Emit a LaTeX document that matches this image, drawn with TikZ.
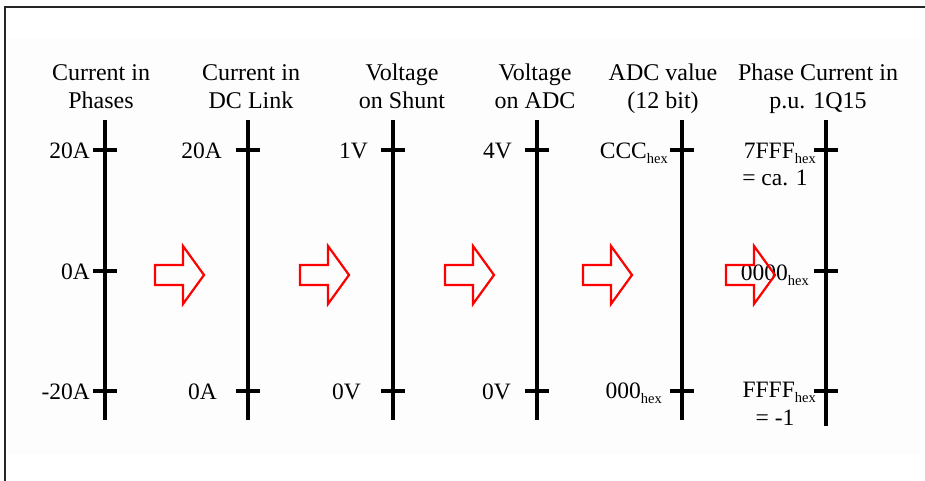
\documentclass[tikz,border=0pt]{standalone}
\usepackage{fontspec}
\setmainfont{Liberation Serif}
\newcommand\hx{\raisebox{-5pt}{\fontsize{14.5}{14.5}\selectfont hex}}
\begin{document}
\begin{tikzpicture}[x=1pt,y=-1pt,
  axis/.style={line width=3.2pt},
  tickmark/.style={line width=3.2pt},
  title/.style={align=center,font=\fontsize{24}{28}\selectfont,inner sep=0pt,anchor=base},
  lab/.style={font=\fontsize{23.5}{28}\selectfont,inner sep=0pt,anchor=base east},
  note/.style={font=\fontsize{23.5}{28}\selectfont,inner sep=0pt,anchor=base},
  blockarrow/.pic={\draw[red,line width=2.2pt,line join=miter]
     (0,-10) -- (28,-10) -- (28,-29) -- (49,0) -- (28,29) -- (28,10) -- (0,10) -- cycle;}
]
\useasboundingbox (0,0) rectangle (925,481);
\fill[black!0.6] (8,38) rectangle (920,454);
\draw[line width=1.8pt,black!85] (5,481) -- (5,7) -- (925,7);

% titles
\node[title] (h1) at (101,109) {Current in\\Phases};
\node[title] (h2) at (251,109) {Current in\\DC Link};
\node[title] (h3) at (402,109) {Voltage\\on Shunt};
\node[title] (h4) at (535,109) {Voltage\\on ADC};
\node[title] (h5) at (663,109) {ADC value\\(12 bit)};
\node[title] (h6) at (818,109) {Phase Current in\\p.u. 1Q15};

% axes
\foreach \i/\x in {1/105,2/248,3/393,4/537,5/682}{
  \coordinate (t\i) at (\x,120);
  \coordinate (b\i) at (\x,420);
  \draw[axis] (t\i) -- (b\i);
}
\coordinate (t6) at (826,120);
\coordinate (b6) at (826,426);
\draw[axis] (t6) -- (b6);

% ticks
\foreach \x in {105,826}{
  \foreach \y in {150,271,391}{
    \draw[tickmark] (\x,\y) +(-12,0) -- +(12,0);
  }
}
\foreach \x in {248,393,537,682}{
  \foreach \y in {150,391}{
    \draw[tickmark] (\x,\y) +(-12,0) -- +(12,0);
  }
}

% tick labels
\node[lab] (l1a) at (90,158) {20A};
\node[lab] (l1b) at (90,279) {0A};
\node[lab] (l1c) at (90,399) {-20A};
\node[lab] (l2a) at (222,158) {20A};
\node[lab] (l2c) at (217,399) {0A};
\node[lab] (l3a) at (368,158) {1V};
\node[lab] (l3c) at (361,399) {0V};
\node[lab] (l4a) at (512,158) {4V};
\node[lab] (l4c) at (511,399) {0V};
\node[lab] (l5a) at (668,159) {CCC\hx};
\node[lab] (l5c) at (662,398) {000\hx};
\node[lab] (l6a) at (816,159) {7FFF\hx};
\node[note] (n6a) at (775,185) {= ca. 1};
\node[lab] (l6b) at (809,280) {0000\hx};
\node[lab] (l6c) at (816,397) {FFFF\hx};
\node[note] (n6c) at (775,425) {= -1};

% arrows
\foreach \x in {155,300,445,583,726}{
  \pic at (\x,275) {blockarrow};
}
\end{tikzpicture}
\end{document}
